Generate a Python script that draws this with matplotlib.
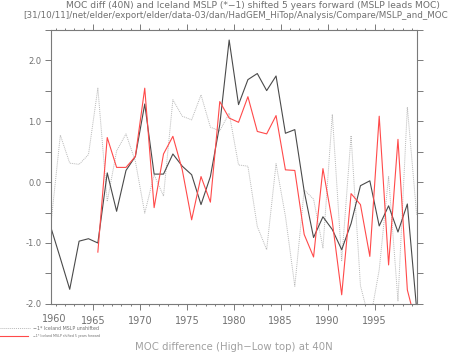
import numpy as np
import matplotlib
matplotlib.use("Agg")
import matplotlib.pyplot as plt
from matplotlib.lines import Line2D
from matplotlib.ticker import MultipleLocator, FixedLocator

# yearly values, plotted at mid-year
years = np.arange(1960, 2000)

moc_diff = [
    -0.75, -1.25, -1.76, -0.97, -0.93, -1.00, 0.15, -0.48, 0.19, 0.42,
    1.28, 0.13, 0.13, 0.46, 0.26, 0.12, -0.37, 0.09, 0.94, 2.33,
    1.27, 1.68, 1.78, 1.50, 1.74, 0.80, 0.86, -0.15, -0.91, -0.57,
    -0.78, -1.11, -0.68, -0.06, 0.02, -0.72, -0.39, -0.82, -0.36, -2.10,
]

mslp_unshifted = [
    -0.68, 0.77, 0.31, 0.29, 0.45, 1.54, -0.32, 0.51, 0.79, 0.34,
    -0.51, 0.12, -0.23, 1.35, 1.08, 1.02, 1.43, 0.90, 0.84, 1.13,
    0.28, 0.26, -0.73, -1.11, 0.30, -0.56, -1.71, -0.13, -0.28, -1.08,
    1.11, -1.29, 0.76, -1.70, -2.30, -1.44, 0.09, -1.95, 1.23, -0.55,
]

nan = np.nan
mslp_shifted = [
    nan, nan, nan, nan, nan, -1.15, 0.73, 0.24, 0.24, 0.42,
    1.54, -0.42, 0.46, 0.75, 0.20, -0.62, 0.09, -0.33, 1.32, 1.05,
    0.98, 1.40, 0.83, 0.79, 1.09, 0.20, 0.19, -0.86, -1.23, 0.22,
    -0.65, -1.85, -0.19, -0.37, -1.22, 1.08, -1.36, 0.70, -1.77, -2.37,
]

TXT = "#707070"
FRAME = "#7a7a7a"
BLACK = "#4a4a4a"
RED = "#ff4a4a"
GREY = "#b8b8b8"

fig = plt.figure(figsize=(4.51, 3.53), dpi=100)
ax = fig.add_axes([0.113, 0.139, 0.811, 0.777])

x = years + 0.5
ax.plot(x, mslp_unshifted, color=GREY, linewidth=0.7, linestyle=(0, (1, 1)))
ax.plot(x, moc_diff, color=BLACK, linewidth=0.8)
ax.plot(x, mslp_shifted, color=RED, linewidth=0.8)

ax.set_xlim(1960.5, 1999.5)
ax.set_ylim(-2.0, 2.5)

ax.xaxis.set_major_locator(FixedLocator([1965, 1970, 1975, 1980, 1985, 1990, 1995]))
ax.xaxis.set_minor_locator(MultipleLocator(1))
ax.yaxis.set_major_locator(FixedLocator([-2, -1, 0, 1, 2]))
ax.yaxis.set_minor_locator(MultipleLocator(0.5))

ax.tick_params(axis="x", which="both", direction="out", top=True, bottom=True,
               colors=FRAME, labelcolor=TXT, labelsize=7, width=0.7, pad=5)
ax.tick_params(axis="x", which="major", length=4)
ax.tick_params(axis="x", which="minor", length=1.6)
ax.tick_params(axis="y", which="both", direction="out", left=True, right=True,
               colors=FRAME, labelcolor=TXT, labelsize=6, width=0.7, length=4, pad=3)

ax.set_xticks(ax.get_xticks())
ax.set_xticklabels(["1965", "1970", "1975", "1980", "1985", "1990", "1995"])
ax.set_yticklabels(["-2.0", "-1.0", "0.0", "1.0", "2.0"])
# the 1960 label sits at the left edge
fig.text(54 / 451, 1 - 319 / 353, "1960", ha="center", va="center",
         fontsize=7, color=TXT)

for sp in ax.spines.values():
    sp.set_color(FRAME)
    sp.set_linewidth(0.8)

fig.text(253 / 451, 1 - 6 / 353,
         "MOC diff (40N) and Iceland MSLP (*\u22121) shifted 5 years forward (MSLP leads MOC)",
         ha="center", va="center", fontsize=6.6, color=TXT)
fig.text(236 / 451, 1 - 16 / 353,
         "[31/10/11]/net/elder/export/elder/data-03/dan/HadGEM_HiTop/Analysis/Compare/MSLP_and_MOC",
         ha="center", va="center", fontsize=6.3, color=TXT)

fig.text(234 / 451, 1 - 347 / 353, "MOC difference (High\u2212Low top) at 40N",
         ha="center", va="center", fontsize=7.3, color="#a0a0a0")

# legend samples
fig.add_artist(Line2D([0, 30 / 451], [1 - 328 / 353] * 2, transform=fig.transFigure,
                      color=GREY, linewidth=0.7, linestyle=(0, (1, 1))))
fig.add_artist(Line2D([0, 28 / 451], [1 - 336 / 353] * 2, transform=fig.transFigure,
                      color=RED, linewidth=0.8))
fig.text(33 / 451, 1 - 328 / 353, "\u22121* Iceland MSLP unshifted",
         ha="left", va="center", fontsize=3.4, color=TXT)
fig.text(33 / 451, 1 - 336 / 353, "\u22121* Iceland MSLP shifted 5 years forward",
         ha="left", va="center", fontsize=2.3, color=TXT)

fig.savefig("out.png", dpi=100, facecolor="white")
